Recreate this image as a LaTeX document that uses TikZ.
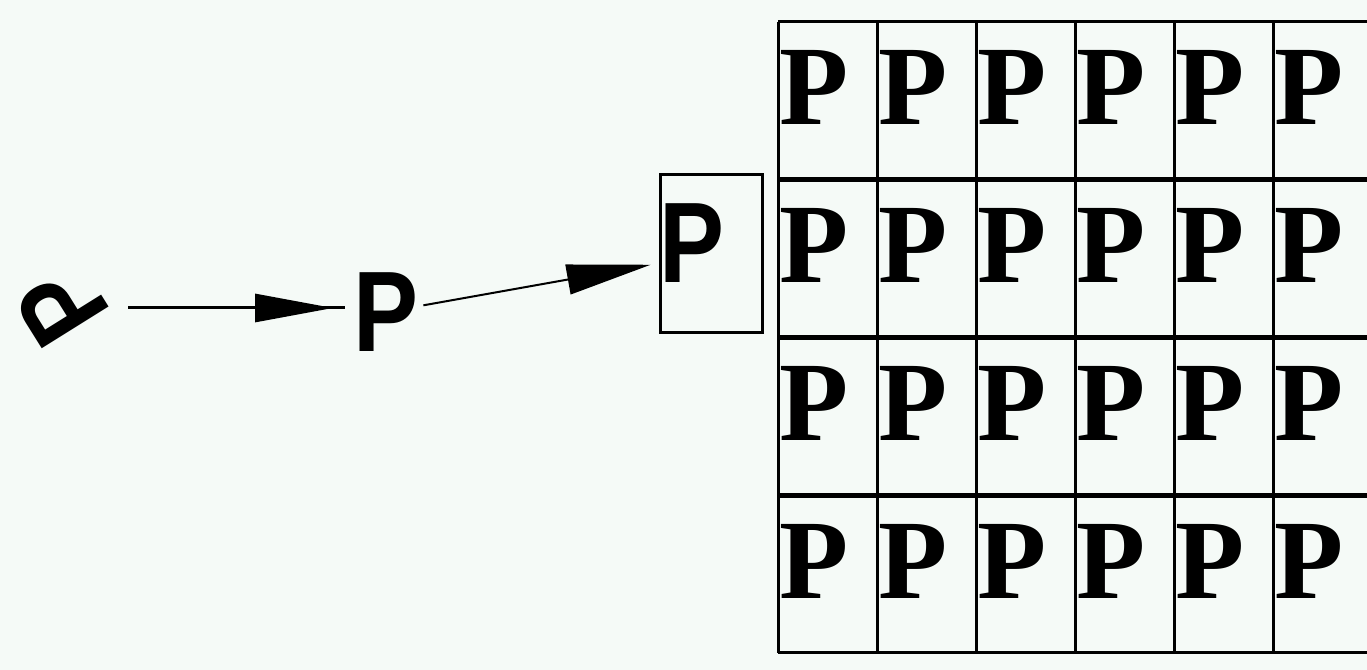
\documentclass[tikz,border=0pt]{standalone}
\usepackage{fontspec}
\setmainfont{Liberation Serif}
\newfontfamily\sanspfont{Liberation Sans}
\usetikzlibrary{arrows.meta,decorations.markings,positioning,calc}
\definecolor{paper}{RGB}{245,250,247}

\tikzset{
  bigp/.style={inner sep=0pt,anchor=base west,font=\fontsize{32.2}{36}\selectfont\bfseries},
  sansp/.style={inner sep=0pt,xscale=0.85,font=\sanspfont\bfseries\fontsize{32.6}{36}\selectfont},
  cellbox/.style={draw,line width=0.3mm,minimum width=10.2mm,minimum height=15.8mm,inner sep=0pt},
  gridline/.style={line width=0.3mm},
  rowline/.style={line width=0.5mm},
  link/.style={line width=0.3mm},
  thinlink/.style={line width=0.2mm}
}

\begin{document}
\begin{tikzpicture}[x=0.1mm,y=-0.1mm]
	\fill[paper] (0,0) rectangle (1367,670);
	\useasboundingbox (0,0) rectangle (1367,670);
	% the three P's on the left
	\node[rotate=122,sansp] (ptilt) at (62,306) {P};
	\node[sansp] (pmid) at (386,312) {P};
	\node[cellbox] (pbox) at (711,254) {};
	\node[sansp] (pin) at (692,243.5) {P};
	% arrows
	\draw[link,shorten <=6.6mm,shorten >=4.1mm,postaction={decorate},
		decoration={markings,mark=at position -5.3mm with {\arrow{Triangle[length=7.8mm,width=2.8mm]}}}]
		([yshift=-0.2mm]ptilt.center) -- ([yshift=-0.2mm]ptilt.center -| pmid.center);
	\draw[thinlink,shorten <=3.8mm,shorten >=0.8mm,-{Triangle[length=8.4mm,width=3mm]}] (pmid.center) -- (pbox);
	% the grid of P's
	\foreach \r in {0,...,3}
		\foreach \c in {0,...,5}
			\node[bigp] (g\r\c) at ({778+99*\c+1},{22+157.75*\r+103}) {P};
	\foreach \c in {0,...,5}
		\draw[gridline] ({778+99*\c},22) -- ({778+99*\c},653);
	\draw[gridline] (778,22) -- (1367,22);
	\draw[gridline] (778,653) -- (1367,653);
	\foreach \r in {1,2,3}
		\draw[rowline] (778,{22+157.75*\r}) -- (1367,{22+157.75*\r});
\end{tikzpicture}
\end{document}
